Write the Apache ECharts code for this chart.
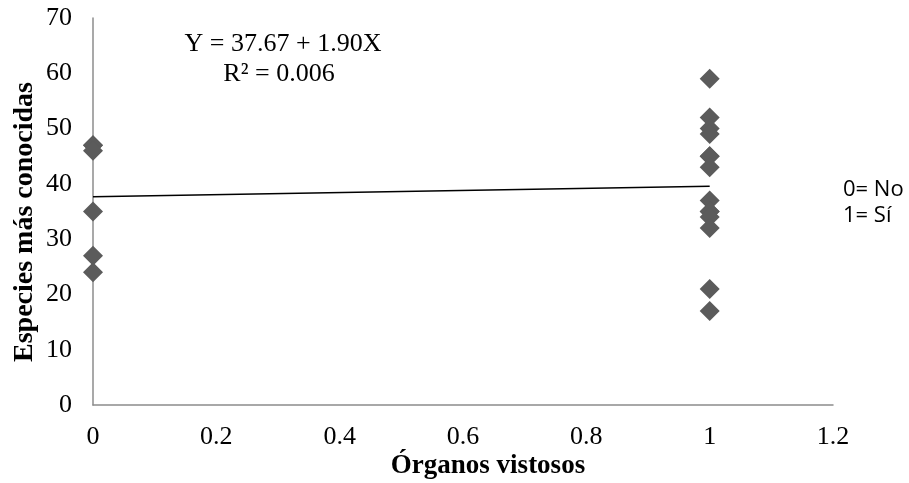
<!DOCTYPE html>
<html>
<head>
<meta charset="utf-8">
<script src="https://cdn.jsdelivr.net/npm/echarts@6/dist/echarts.min.js"></script>
<style>
  html, body { margin: 0; padding: 0; background: #fff; }
  #chart { width: 909px; height: 483px; }
</style>
</head>
<body>
<div id="chart"></div>
<script>
// Showy organs (0 = no, 1 = yes) vs. number of best-known species
const groupNo = [47, 47, 46, 35, 27, 24];
const groupYes = [59, 52, 50, 49, 45, 45, 43, 37, 35, 35, 34, 32, 21, 17];
const intercept = 37.67;
const slope = 1.90;
const rSquared = '0.006';
const xTicks = [0, 0.2, 0.4, 0.6, 0.8, 1, 1.2];
const yTicks = [0, 10, 20, 30, 40, 50, 60, 70];
const xTitle = 'Órganos vistosos';
const yTitle = 'Especies más conocidas';
const codeNote = ['0= No', '1= Sí'];

const points = groupNo.map(v => [0, v]).concat(groupYes.map(v => [1, v]));
const fitLine = [[0, intercept], [1, intercept + slope * 1]];

const serif = '"Liberation Serif", "Times New Roman", serif';
const sans = '"Open Sans", "Liberation Sans", sans-serif';
const chart = echarts.init(document.getElementById('chart'));
chart.setOption({
  animation: false,
  backgroundColor: '#ffffff',
  grid: { left: 93, right: 76, top: 18, bottom: 78, containLabel: false },
  xAxis: {
    type: 'value',
    min: xTicks[0], max: xTicks[xTicks.length - 1], interval: 0.2,
    axisLine: { show: true, onZero: false, lineStyle: { color: '#8c8c8c', width: 1.5 } },
    axisTick: { show: false },
    splitLine: { show: false },
    axisLabel: { fontFamily: serif, fontSize: 26, color: '#000', margin: 19,
      formatter: v => String(Math.round(v * 10) / 10) }
  },
  yAxis: {
    type: 'value',
    min: yTicks[0], max: yTicks[yTicks.length - 1], interval: 10,
    axisLine: { show: true, lineStyle: { color: '#8c8c8c', width: 1.5 } },
    axisTick: { show: false },
    splitLine: { show: false },
    axisLabel: { fontFamily: serif, fontSize: 26, color: '#000', margin: 21 }
  },
  series: [
    {
      type: 'line',
      data: fitLine,
      symbol: 'none',
      lineStyle: { color: '#000', width: 1.5 },
      z: 1
    },
    {
      type: 'scatter',
      data: points,
      symbol: 'diamond',
      symbolSize: [20, 20],
      itemStyle: { color: '#5b5b5b', opacity: 1 },
      z: 2
    }
  ],
  graphic: [
    {
      type: 'text', x: 283, y: 44,
      style: { text: 'Y = ' + intercept.toFixed(2) + ' + ' + slope.toFixed(2) + 'X',
        font: '26px ' + serif, fill: '#000', align: 'center', verticalAlign: 'middle' }
    },
    {
      type: 'text', x: 279, y: 74,
      style: { text: 'R² = ' + rSquared, font: '26px ' + serif, fill: '#000',
        align: 'center', verticalAlign: 'middle' }
    },
    {
      type: 'text', x: 488, y: 466,
      style: { text: xTitle, font: 'bold 27px ' + serif, fill: '#000',
        align: 'center', verticalAlign: 'middle' }
    },
    {
      type: 'text', x: 25, y: 222, rotation: Math.PI / 2,
      style: { text: yTitle, font: 'bold 28px ' + serif, fill: '#000',
        align: 'center', verticalAlign: 'middle' }
    },
    {
      type: 'text', x: 843, y: 190,
      style: { text: codeNote[0], font: '22px ' + sans, fill: '#000', verticalAlign: 'middle' }
    },
    {
      type: 'text', x: 843, y: 216,
      style: { text: codeNote[1], font: '22px ' + sans, fill: '#000', verticalAlign: 'middle' }
    }
  ]
});
</script>
</body>
</html>
